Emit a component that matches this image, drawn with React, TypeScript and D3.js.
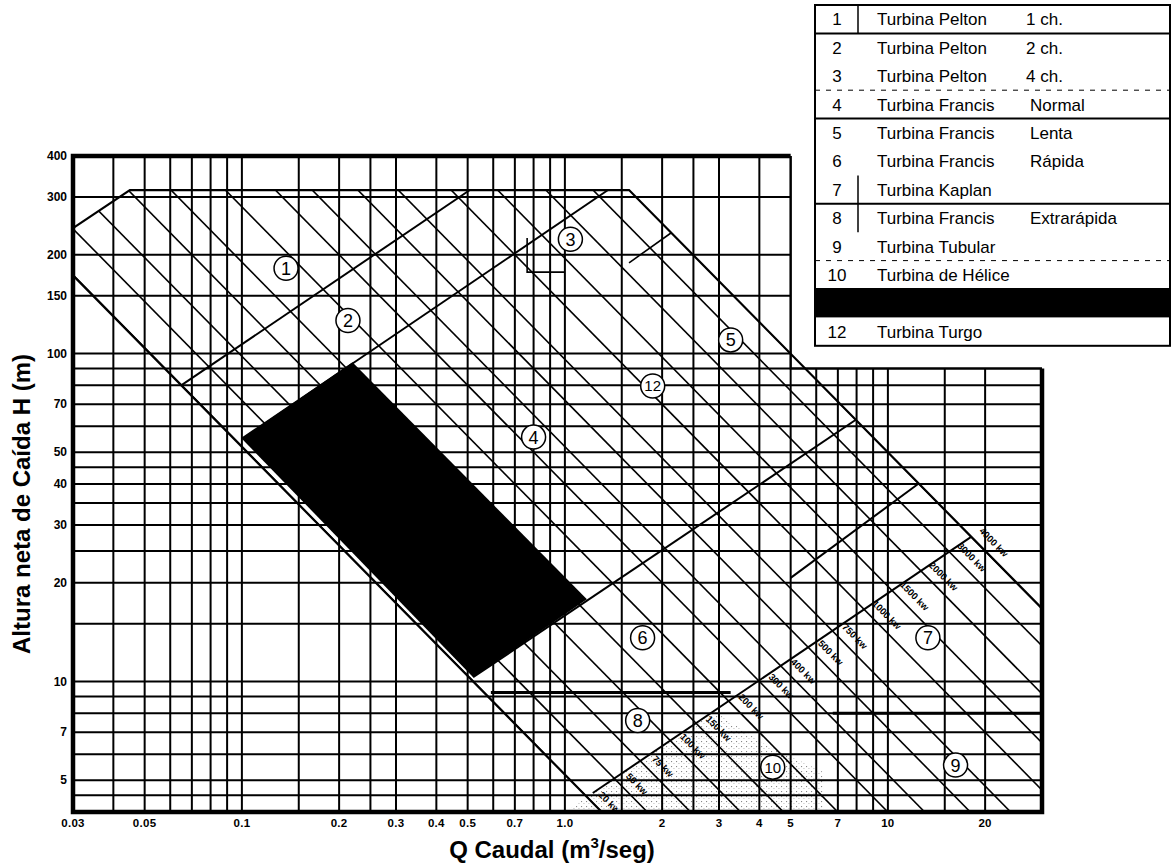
import React from 'react';
import * as d3 from 'd3';

// ---- data ----
const qTicks = [0.03, 0.05, 0.1, 0.2, 0.3, 0.4, 0.5, 0.7, 1.0, 2, 3, 4, 5, 7, 10, 20];
const qTickLabels = ['0.03', '0.05', '0.1', '0.2', '0.3', '0.4', '0.5', '0.7', '1.0', '2', '3', '4', '5', '7', '10', '20'];
const hTicks = [400, 300, 200, 150, 100, 70, 50, 40, 30, 20, 10, 7, 5];

const qGrid = [0.04, 0.05, 0.06, 0.07, 0.08, 0.09, 0.1, 0.15, 0.2, 0.25, 0.3, 0.4, 0.5, 0.6, 0.7, 0.8, 0.9, 1, 1.5, 2, 2.5, 3, 4, 5, 6, 7, 8, 9, 10, 15, 20];
const hGrid = [4.5, 5, 6, 7, 8, 9, 10, 15, 20, 25, 30, 35, 40, 45, 50, 60, 70, 80, 90, 100, 150, 200, 300];

// power lines: Q*H constant, with their labels
const powerLabels = ['20 kw', '50 kw', '75 kw', '100 kw', '150 kw', '200 kw', '300 kw', '400 kw', '500 kw', '750 kw', '1000 kw', '1500 kw', '2000 kw', '3000 kw', '4000 kw'];
const powerQH = [5.2, 7.2, 9.8, 14, 19, 28, 40, 52, 72, 96, 140, 195, 275, 385, 500];

// outer limit of the application field (Q, H)
const envelope: [number, number][] = [[0.03, 241], [0.045, 315], [1.58, 315], [30, 16.7], [30, 4], [1.3, 4], [0.03, 173]];

// boundaries between turbine types
const boundaries: [number, number][][] = [
  [[0.0652, 80.2], [0.508, 315]],
  [[0.1, 55], [1.36, 315]],
  [[0.52, 10.3], [8, 63]],
  [[5, 20.7], [12.4, 40]],
  [[1.22, 4.57], [18.1, 27.6]],
];
const minorBoundaries: [number, number][][] = [
  [[0.764, 225], [0.764, 177], [1.0, 177]],
  [[1.58, 189], [2.13, 233]],
];
const thickSegments: [number, number][][] = [
  [[0.59, 9.25], [3.26, 9.25]],
  [[6.75, 8], [30, 8]],
];
const labelLine = { q: 1.22, h: 4.57 };

// region 11 (covered) and region 10 stipple
const blackRegion: [number, number][] = [[0.1, 55], [0.22, 94], [1.17, 17.8], [0.52, 10.3]];
const heliceRegion: [number, number][] = [[1.0, 4], [2.9, 8.1], [4.2, 6.4], [6.3, 5.3], [6.3, 4]];

const regionIds = ['1', '2', '3', '4', '5', '6', '7', '8', '9', '10', '12'];
const regionQ = [0.137, 0.213, 1.04, 0.8, 3.26, 1.74, 13.3, 1.68, 16.2, 4.4, 1.87];
const regionH = [182, 126, 223, 55.6, 110, 13.6, 13.6, 7.6, 5.56, 5.48, 79.6];

const legendNums = ['1', '2', '3', '4', '5', '6', '7', '8', '9', '10', '11', '12'];
const legendNames = ['Turbina Pelton', 'Turbina Pelton', 'Turbina Pelton', 'Turbina Francis', 'Turbina Francis', 'Turbina Francis', 'Turbina Kaplan', 'Turbina Francis', 'Turbina Tubular', 'Turbina de Hélice', '', 'Turbina Turgo'];
const legendSub = ['1 ch.', '2 ch.', '4 ch.', 'Normal', 'Lenta', 'Rápida', '', 'Extrarápida', '', '', '', ''];

const FONT = '"Liberation Sans", Arial, Helvetica, sans-serif';

export default function App() {
  const x = d3.scaleLog().domain([0.03, 30]).range([73, 1042]);
  const y = d3.scaleLog().domain([4, 400]).range([812, 156]);
  const line = d3.line<[number, number]>().x(d => x(d[0])).y(d => y(d[1]));

  const frame: [number, number][] = [[5, 400], [0.03, 400], [0.03, 4], [30, 4], [30, 90]];
  const frameStep: [number, number][] = [[5, 400], [5, 90], [30, 90]];

  // label anchor: crossing of each power line with the rising label line
  const a = labelLine.h / Math.pow(labelLine.q, 2 / 3);
  const labelPos = powerQH.map(k => {
    const q = Math.pow(k / a, 0.6);
    return [x(q) + 22, y(k / q) + 6];
  });
  const ang = (Math.atan2(y(1) - y(10), x(10) - x(1)) * 180) / Math.PI;

  const legX = 815, legY = 5, rowH = 28.4, legW = 355;

  return (
    <svg width={1171} height={865} style={{ position: 'absolute', left: 0, top: 0, background: '#fff' }} fontFamily={FONT}>
      <defs>
        <clipPath id="env">
          <path d={line(envelope) + 'Z'} />
        </clipPath>
        <pattern id="dots" width="5" height="5" patternUnits="userSpaceOnUse">
          <rect x="1" y="1" width="1.1" height="1.1" fill="#888" />
          <rect x="3.5" y="3" width="0.9" height="0.9" fill="#aaa" />
        </pattern>
      </defs>

      {/* stippled helice region */}
      <path d={line(heliceRegion) + 'Z'} fill="url(#dots)" />

      {/* grid */}
      {qGrid.map(q => (
        <line key={'v' + q} x1={x(q)} x2={x(q)} y1={y(4)} y2={y(q <= 5 ? 400 : 90)} stroke="#000" strokeWidth={2} />
      ))}
      {hGrid.map(h => (
        <line key={'h' + h} x1={x(0.03)} x2={x(h > 90 ? 5 : 30)} y1={y(h)} y2={y(h)} stroke="#000" strokeWidth={2} />
      ))}

      {/* power lines */}
      <g clipPath="url(#env)">
        {powerQH.map(k => (
          <path key={'p' + k} d={line([[k / 400, 400], [k / 4, 4]]) || ''} stroke="#000" strokeWidth={1.6} fill="none" />
        ))}
      </g>

      {/* envelope and boundaries */}
      <path d={line(envelope) || ''} fill="none" stroke="#000" strokeWidth={2.2} />
      {boundaries.map((s, i) => (
        <path key={'b' + i} d={line(s) || ''} fill="none" stroke="#000" strokeWidth={2} />
      ))}
      {minorBoundaries.map((s, i) => (
        <path key={'m' + i} d={line(s) || ''} fill="none" stroke="#000" strokeWidth={1.6} />
      ))}
      {thickSegments.map((s, i) => (
        <path key={'t' + i} d={line(s) || ''} fill="none" stroke="#000" strokeWidth={3} />
      ))}

      <path d={line(blackRegion) + 'Z'} fill="#000" />

      {/* frame */}
      <path d={line(frame) || ''} fill="none" stroke="#000" strokeWidth={4.5} />
      <path d={line(frameStep) || ''} fill="none" stroke="#000" strokeWidth={2} />

      {/* power labels */}
      {powerLabels.map((t, i) => (
        <text key={t} x={labelPos[i][0]} y={labelPos[i][1]} transform={`rotate(${ang} ${labelPos[i][0]} ${labelPos[i][1]})`}
          fontSize={9.5} fontWeight="bold" textAnchor="middle" dominantBaseline="middle">{t}</text>
      ))}

      {/* region numbers */}
      {regionIds.map((id, i) => (
        <g key={'r' + id} transform={`translate(${x(regionQ[i])},${y(regionH[i])})`}>
          <circle r={12} fill="#fff" stroke="#000" strokeWidth={1.5} />
          <text textAnchor="middle" dy="0.36em" fontSize={id.length > 1 ? 15 : 18}>{id}</text>
        </g>
      ))}

      {/* axes labels */}
      {hTicks.map(h => (
        <text key={'yt' + h} x={67} y={y(h)} dy="0.35em" textAnchor="end" fontSize={12} fontWeight="bold">{h}</text>
      ))}
      {qTicks.map((q, i) => (
        <text key={'xt' + q} x={x(q)} y={827} textAnchor="middle" fontSize={11.5} fontWeight="bold" letterSpacing={0.3}>{qTickLabels[i]}</text>
      ))}
      <text x={552} y={858} textAnchor="middle" fontSize={24} fontWeight="bold">
        Q Caudal (m<tspan dy={-10} fontSize={15}>3</tspan><tspan dy={10}>/seg)</tspan>
      </text>
      <text transform="translate(30,504) rotate(-90)" textAnchor="middle" fontSize={24} fontWeight="bold">
        Altura neta de Caída H (m)
      </text>

      {/* legend */}
      <rect x={legX} y={legY} width={legW} height={rowH * 12} fill="#fff" stroke="#000" strokeWidth={2} />
      <rect x={legX} y={legY + rowH * 10} width={legW} height={rowH} fill="#000" />
      {[1, 4, 7, 10].map(r => (
        <line key={'lr' + r} x1={legX} x2={legX + legW} y1={legY + rowH * r} y2={legY + rowH * r} stroke="#000" strokeWidth={2} />
      ))}
      {[3, 9].map(r => (
        <line key={'ld' + r} x1={legX} x2={legX + legW} y1={legY + rowH * r} y2={legY + rowH * r} stroke="#000" strokeWidth={1} strokeDasharray="5 6" />
      ))}
      <line x1={858} x2={858} y1={legY} y2={legY + rowH} stroke="#000" strokeWidth={1.5} />
      <line x1={858} x2={858} y1={legY + rowH * 6} y2={legY + rowH * 8} stroke="#000" strokeWidth={1.5} />
      {legendNums.map((n, i) => (
        i === 10 ? null : (
          <g key={'lg' + n} fontSize={17}>
            <text x={837} y={legY + rowH * i + rowH / 2} dy="0.36em" textAnchor="middle">{n}</text>
            <text x={877} y={legY + rowH * i + rowH / 2} dy="0.36em">{legendNames[i]}</text>
            {legendSub[i] && <text x={i < 3 ? 1026 : 1030} y={legY + rowH * i + rowH / 2} dy="0.36em">{legendSub[i]}</text>}
          </g>
        )
      ))}
    </svg>
  );
}
